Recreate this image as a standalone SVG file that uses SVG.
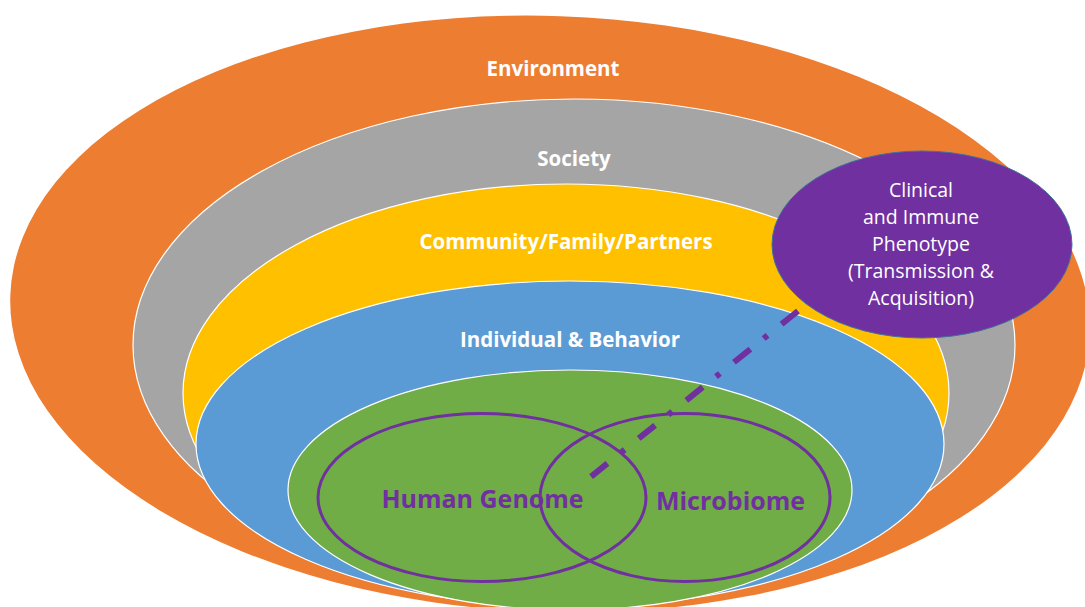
<svg xmlns="http://www.w3.org/2000/svg" width="1085" height="607" viewBox="0 0 1085 607">
  <style>
    .ring { stroke: #ffffff; stroke-width: 1.2; }
    .layer-label { font-family: "Open Sans", "Liberation Sans", sans-serif; font-weight: 700; font-size: 20.5px; fill: #ffffff; text-anchor: middle; }
    .venn { fill: none; stroke: #7030A0; stroke-width: 3; }
    .venn-label { font-family: "Open Sans", "Liberation Sans", sans-serif; font-weight: 700; font-size: 25px; fill: #7030A0; text-anchor: middle; }
    .pheno-label { font-family: "Open Sans", "Liberation Sans", sans-serif; font-size: 19.5px; fill: #ffffff; text-anchor: middle; }
  </style>
  <rect width="1085" height="607" fill="#ffffff"/>

  <g id="environment">
    <ellipse cx="550" cy="314" rx="540" ry="298" fill="#ED7D31" transform="rotate(2 550 314)"/>
    <text class="layer-label" x="553" y="76">Environment</text>
  </g>

  <g id="society">
    <ellipse class="ring" cx="574" cy="345" rx="441" ry="246" fill="#A5A5A5"/>
    <text class="layer-label" x="574" y="166">Society</text>
  </g>

  <g id="community">
    <ellipse class="ring" cx="566" cy="393" rx="383" ry="209" fill="#FFC000"/>
    <text class="layer-label" x="566" y="249">Community/Family/Partners</text>
  </g>

  <g id="individual">
    <ellipse class="ring" cx="570" cy="444" rx="374" ry="163" fill="#5B9BD5"/>
    <text class="layer-label" x="570" y="347">Individual &amp; Behavior</text>
  </g>

  <g id="biology">
    <ellipse class="ring" cx="570" cy="490" rx="282" ry="120" fill="#70AD47"/>
  </g>

  <g id="human-genome">
    <ellipse class="venn" cx="482" cy="497.5" rx="164" ry="84"/>
    <text class="venn-label" x="482.5" y="508">Human Genome</text>
  </g>

  <g id="microbiome">
    <ellipse class="venn" cx="685" cy="497.5" rx="145" ry="84"/>
    <text class="venn-label" x="730.5" y="510">Microbiome</text>
  </g>

  <g id="phenotype">
    <ellipse cx="922" cy="244.5" rx="150" ry="93.5" fill="#7030A0" stroke="#41719C" stroke-width="1"/>
    <text class="pheno-label" x="921" y="197">Clinical</text>
    <text class="pheno-label" x="921" y="224">and Immune</text>
    <text class="pheno-label" x="921" y="251">Phenotype</text>
    <text class="pheno-label" x="921" y="278">(Transmission &amp;</text>
    <text class="pheno-label" x="921" y="305">Acquisition)</text>
  </g>

  <g id="connectors">
    <line x1="798" y1="311" x2="588" y2="479" stroke="#7030A0" stroke-width="6" stroke-dasharray="21 18 5 17"/>
  </g>
</svg>
